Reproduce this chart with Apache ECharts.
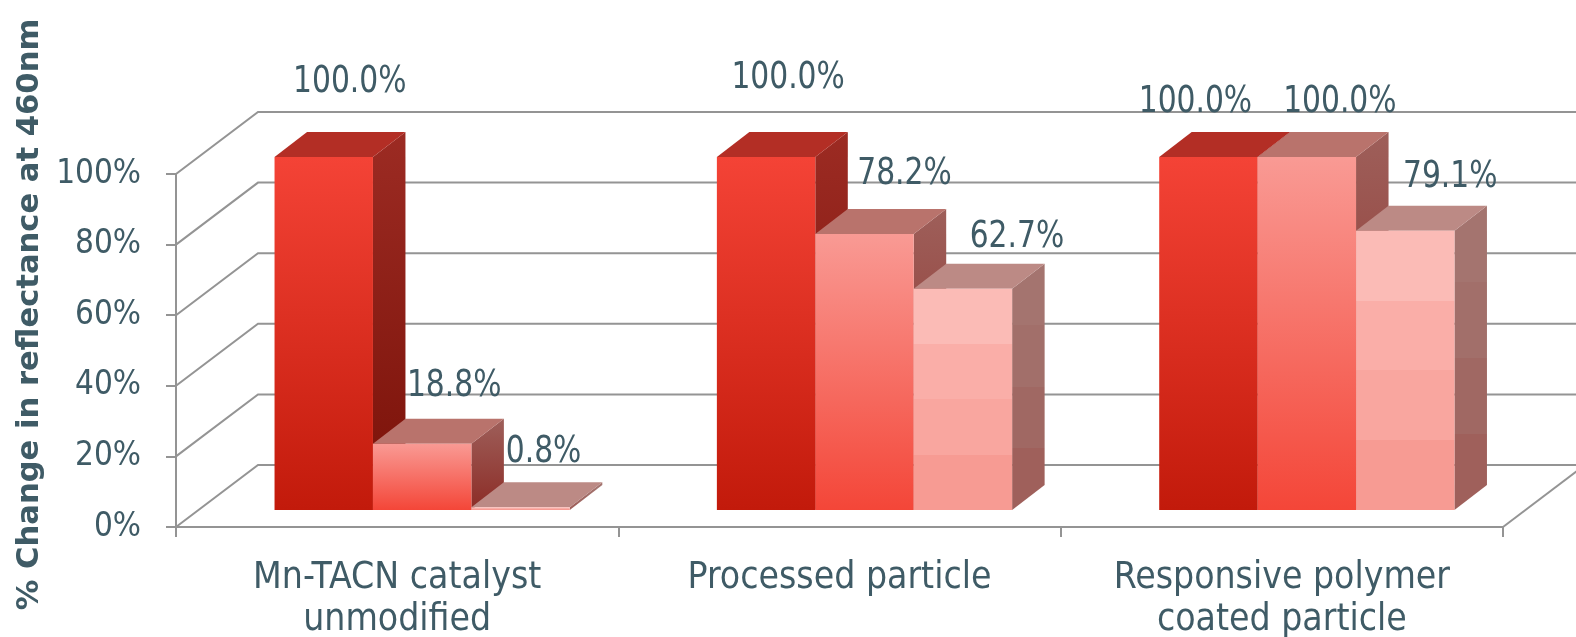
<!DOCTYPE html>
<html><head><meta charset="utf-8">
<style>html,body{margin:0;padding:0;background:#fff}#c{width:1576px;height:637px}</style>
<script src="https://cdn.jsdelivr.net/npm/echarts@6/dist/echarts.min.js"></script>
</head><body><div id="c"></div>
<script>
const categories = ['Mn-TACN catalyst\nunmodified', 'Processed particle', 'Responsive polymer\ncoated particle'];
const seriesA = [100, 100, 100];
const seriesB = [18.8, 78.2, 100];
const seriesC = [0.8, 62.7, 79.1];
const yTicks = [0, 20, 40, 60, 80, 100];
const yTitle = '% Change in reflectance at 460nm';

// Label nudges, relative to each bar's front-top centre: per series, per category
const nudgeA = [[26, -75], [22, -79], [-13, -55]];
const nudgeB = [[32, -58], [40, -60], [33, -55]];
const nudgeC = [[23, -55], [54, -52], [45, -54]];

const TEXT = '#3F5B66', LINE = '#949494';
const FONT = '"DejaVu Sans Condensed","DejaVu Sans",sans-serif';
const FS = 37, NFS = 38, AXFS = 33;
const WALL = {dx: 82, dy: -62};
const BAR = {dx: 32.5, dy: -25, fx: 25, fy: -17, w: 0.2225};

function grad(stops) {
  return {type: 'linear', x: 0, y: 0, x2: 0, y2: 1,
    colorStops: stops.map(s => ({offset: s[0], color: s[1]}))};
}
function bands(cols) {
  const out = [];
  cols.forEach((c, i) => { out.push([i / cols.length, c]); out.push([(i + 1) / cols.length, c]); });
  return grad(out);
}
const skinA = {
  front: grad([[0, '#F44336'], [1, '#C21A0B']]),
  top: '#B32E25',
  side: grad([[0, '#9C2B23'], [1, '#7A1108']])
};
const skinB = {
  front: grad([[0, '#F99A94'], [1, '#F44638']]),
  top: '#B9736C',
  side: grad([[0, '#9E5F5A'], [1, '#8C2C26']])
};
const skinC = {
  front: bands(['#FBBBB6', '#FAAEA8', '#F9A69F', '#F79B93']),
  top: '#BC8A85',
  side: bands(['#A4746F', '#A26F6A', '#A06863', '#9F605B'])
};

function barSeries(name, values, skin, slot, nudge) {
  return {
    name, type: 'custom', clip: false, z: 3,
    data: values.map((v, i) => [i, v]),
    renderItem(params, api) {
      const cat = api.value(0), val = api.value(1);
      const band = api.size([1, 0])[0];
      const c = api.coord([cat, val]), b = api.coord([cat, 0]);
      const w = band * BAR.w;
      const x0 = c[0] + BAR.fx + (slot - 1.5) * w, x1 = x0 + w;
      const yT = c[1] + BAR.fy, yB = b[1] + BAR.fy;
      const n = nudge[params.dataIndex];
      const d = BAR;
      return {type: 'group', children: [
        {type: 'polygon', shape: {points: [[x1, yT], [x1 + d.dx, yT + d.dy], [x1 + d.dx, yB + d.dy], [x1, yB]]}, style: {fill: skin.side}},
        {type: 'polygon', shape: {points: [[x0, yT], [x0 + d.dx, yT + d.dy], [x1 + d.dx, yT + d.dy], [x1, yT]]}, style: {fill: skin.top}},
        {type: 'rect', shape: {x: x0, y: yT, width: w, height: yB - yT}, style: {fill: skin.front}},
        {type: 'text', z2: 50, x: x0 + w / 2 + n[0], y: yT + n[1], scaleX: 0.87, style: {
          x: 0, y: 0, text: val.toFixed(1) + '%',
          fill: TEXT, font: NFS + 'px ' + FONT, align: 'center', verticalAlign: 'middle'}}
      ]};
    }
  };
}

const wallSeries = {
  name: 'walls', type: 'custom', clip: false, z: 1, silent: true,
  data: yTicks.map(t => [t]),
  renderItem(params, api) {
    const p = api.coord([0, api.value(0)]);
    const x0 = p[0] - api.size([1, 0])[0] / 2, y = p[1];
    const lines = [{type: 'polyline', shape: {points: [[x0, y], [x0 + WALL.dx, y + WALL.dy], [1600, y + WALL.dy]]},
      style: {stroke: LINE, lineWidth: 2, fill: null}}];
    if (params.dataIndex === 0) {
      const xr = api.coord([2, 0])[0] + api.size([1, 0])[0] / 2;
      lines.push({type: 'line', shape: {x1: xr, y1: y, x2: xr + WALL.dx, y2: y + WALL.dy},
        style: {stroke: LINE, lineWidth: 2}});
    }
    return {type: 'group', children: lines};
  }
};

const chart = echarts.init(document.getElementById('c'), null, {renderer: 'canvas'});
chart.setOption({
  animation: false,
  backgroundColor: '#fff',
  grid: {left: 176, right: 73, top: 174, bottom: 110, containLabel: false, outerBoundsMode: 'none'},
  xAxis: {
    type: 'category', data: categories,
    axisLine: {lineStyle: {color: LINE, width: 2}},
    axisTick: {show: true, length: 10, lineStyle: {color: LINE, width: 2}},
    axisLabel: {color: TEXT, fontSize: FS, fontFamily: FONT, interval: 0, margin: 30, lineHeight: 42}
  },
  yAxis: {
    type: 'value', min: 0, max: 100, interval: 20,
    name: yTitle, nameLocation: 'middle', nameGap: 105,
    nameTextStyle: {color: TEXT, fontSize: 30.6, fontFamily: '"DejaVu Sans",sans-serif', fontWeight: 'bold', padding: [0, 0, 0, 72]},
    splitLine: {show: false},
    axisLine: {show: true, lineStyle: {color: LINE, width: 2}},
    axisTick: {show: true, length: 10, lineStyle: {color: LINE, width: 2}},
    axisLabel: {color: TEXT, fontSize: AXFS, fontFamily: FONT, margin: 35, padding: [8, 0, 0, 0], formatter: '{value}%'}
  },
  series: [
    wallSeries,
    barSeries('Series A', seriesA, skinA, 0, nudgeA),
    barSeries('Series B', seriesB, skinB, 1, nudgeB),
    barSeries('Series C', seriesC, skinC, 2, nudgeC)
  ]
});
</script></body></html>
